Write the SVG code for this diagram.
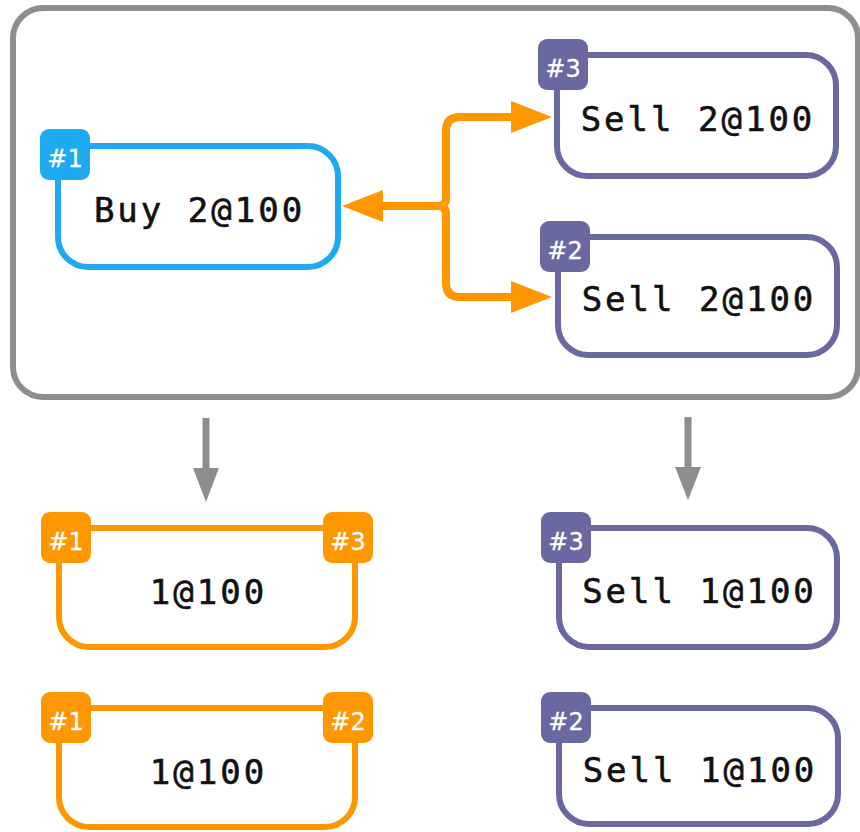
<svg xmlns="http://www.w3.org/2000/svg" width="860" height="832" viewBox="0 0 860 832">
<style>
.box{fill:#fff;stroke-width:6}
.buy{stroke:#1EAAF1}
.sell{stroke:#6A68A0}
.org{stroke:#FF9800}
.bb{fill:#1EAAF1}
.bs{fill:#6A68A0}
.bo{fill:#FF9800}
.lbl{font-family:"DejaVu Sans Mono",monospace;font-size:34px;fill:#111;text-anchor:middle;letter-spacing:3px;stroke:#111;stroke-width:0.6}
.bt{font-family:"DejaVu Sans",sans-serif;font-size:24px;fill:#fff;text-anchor:middle;stroke:#fff;stroke-width:0.3}
.oc{fill:none;stroke:#FF9800;stroke-width:8;stroke-linejoin:round}
.ga{stroke:#8E8E8E;stroke-width:7}
</style>
<rect x="13" y="8" width="845" height="389" rx="30" fill="#fff" stroke="#8E8E8E" stroke-width="6"/>
<g id="connectors">
<path class="oc" d="M383 206 H438 Q446 206 446 198 V131 Q446 117 460 117 H512"/>
<path class="oc" d="M383 206 H438 Q446 206 446 214 V283 Q446 297 460 297 H512"/>
<polygon fill="#FF9800" points="342,206 383,190 383,222"/>
<polygon fill="#FF9800" points="552,117 511,101 511,133"/>
<polygon fill="#FF9800" points="552,297 511,281 511,313"/>
<line class="ga" x1="206" y1="418" x2="206" y2="472"/>
<polygon fill="#8E8E8E" points="193,468 219,468 206,502"/>
<line class="ga" x1="688" y1="417" x2="688" y2="470"/>
<polygon fill="#8E8E8E" points="675,467 701,467 688,500"/>
</g>
<g id="buy1">
<rect class="box buy" x="58" y="146" width="280" height="121" rx="30"/>
<rect class="bb" x="40" y="129" width="50" height="51" rx="9"/>
<text class="bt" x="65" y="167">#1</text>
<text class="lbl" x="199.5" y="222">Buy 2@100</text>
</g>
<g id="sell3">
<rect class="box sell" x="557" y="55" width="279" height="121" rx="30"/>
<rect class="bs" x="538" y="39" width="50" height="51" rx="9"/>
<text class="bt" x="563" y="77">#3</text>
<text class="lbl" x="698" y="131">Sell 2@100</text>
</g>
<g id="sell2">
<rect class="box sell" x="558" y="237" width="279" height="118" rx="30"/>
<rect class="bs" x="540" y="221" width="50" height="51" rx="9"/>
<text class="bt" x="565" y="259">#2</text>
<text class="lbl" x="699" y="311">Sell 2@100</text>
</g>
<g id="match13">
<rect class="box org" x="59" y="528" width="296" height="119" rx="30"/>
<rect class="bo" x="41" y="512" width="50" height="51" rx="9"/>
<rect class="bo" x="323" y="512" width="50" height="51" rx="9"/>
<text class="bt" x="66" y="550">#1</text>
<text class="bt" x="348" y="550">#3</text>
<text class="lbl" x="208.5" y="604">1@100</text>
</g>
<g id="match12">
<rect class="box org" x="59" y="708" width="296" height="119" rx="30"/>
<rect class="bo" x="41" y="692" width="50" height="51" rx="9"/>
<rect class="bo" x="323" y="692" width="50" height="51" rx="9"/>
<text class="bt" x="66" y="730">#1</text>
<text class="bt" x="348" y="730">#2</text>
<text class="lbl" x="208.5" y="784">1@100</text>
</g>
<g id="rest3">
<rect class="box sell" x="559" y="528" width="278" height="119" rx="30"/>
<rect class="bs" x="541" y="512" width="50" height="51" rx="9"/>
<text class="bt" x="566" y="550">#3</text>
<text class="lbl" x="699.5" y="603">Sell 1@100</text>
</g>
<g id="rest2">
<rect class="box sell" x="559" y="708" width="279" height="116" rx="30"/>
<rect class="bs" x="541" y="692" width="50" height="51" rx="9"/>
<text class="bt" x="566" y="730">#2</text>
<text class="lbl" x="700" y="782">Sell 1@100</text>
</g>
</svg>
